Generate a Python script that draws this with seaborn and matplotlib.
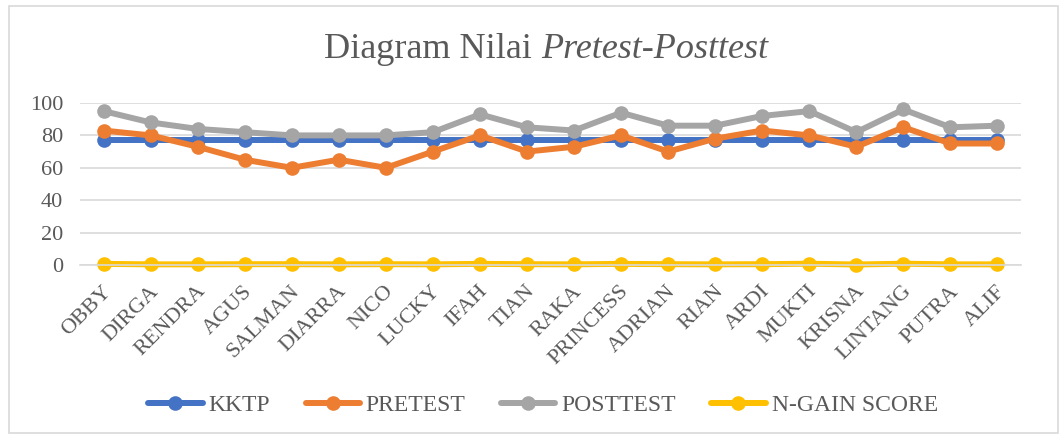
import matplotlib
matplotlib.use("Agg")
import matplotlib.pyplot as plt
import matplotlib.transforms as mtransforms
import seaborn as sns
import pandas as pd
from matplotlib.patches import Rectangle
from matplotlib.lines import Line2D

names = ["OBBY", "DIRGA", "RENDRA", "AGUS", "SALMAN", "DIARRA", "NICO", "LUCKY",
         "IFAH", "TIAN", "RAKA", "PRINCESS", "ADRIAN", "RIAN", "ARDI", "MUKTI",
         "KRISNA", "LINTANG", "PUTRA", "ALIF"]
kktp = [77] * 20
pretest = [83, 80, 73, 65, 60, 65, 60, 70, 80, 70, 73, 80, 70, 78, 83, 80, 73, 85, 75, 75]
posttest = [95, 88, 84, 82, 80, 80, 80, 82, 93, 85, 83, 94, 86, 86, 92, 95, 82, 96, 85, 86]
ngain = [0.7, 0.4, 0.4, 0.5, 0.5, 0.4, 0.5, 0.4, 0.7, 0.5, 0.4, 0.7, 0.5, 0.4, 0.5, 0.8, 0.3, 0.8, 0.4, 0.4]
yticks = [0, 20, 40, 60, 80, 100]

series = {"KKTP": kktp, "PRETEST": pretest, "POSTTEST": posttest, "N-GAIN SCORE": ngain}
colors = {"KKTP": "#4472C4", "PRETEST": "#ED7D31", "POSTTEST": "#A5A5A5", "N-GAIN SCORE": "#FFC000"}

rows = []
for s, vals in series.items():
    for i, (n, v) in enumerate(zip(names, vals)):
        rows.append({"Nama": n, "idx": i, "Seri": s, "Nilai": v})
df = pd.DataFrame(rows)

sns.set_theme(style="white")
plt.rcParams["font.family"] = ["Liberation Serif", "DejaVu Serif"]
text_color = "#595959"
LW = 4.3
MS = 10.5

fig = plt.figure(figsize=(10.63, 4.37), dpi=100)
ax = fig.add_axes([80 / 1063, 1 - 265 / 437, (1021 - 80) / 1063, (265 - 103) / 437])

sns.lineplot(data=df, x="idx", y="Nilai", hue="Seri", palette=colors, ax=ax,
             marker="o", markersize=MS, markeredgewidth=0, linewidth=LW,
             sort=False, clip_on=False, legend=False)

ax.set_xlim(-0.5, len(names) - 0.5)
ax.set_ylim(0, 100)
ax.set_yticks(yticks)
ax.set_xticks(range(len(names)))
ax.set_xticklabels(names, rotation=45, ha="right", va="center", rotation_mode="anchor")
ax.tick_params(axis="both", length=0, labelsize=16, labelcolor=text_color)
ax.tick_params(axis="x", pad=17)
ax.tick_params(axis="y", pad=12)
offset = mtransforms.ScaledTranslation(5 / 100, 0, fig.dpi_scale_trans)
for lab in ax.get_xticklabels():
    lab.set_transform(lab.get_transform() + offset)
ax.grid(axis="y", color="#D9D9D9", linewidth=1.2)
ax.set_axisbelow(True)
for sp in ["top", "right", "left"]:
    ax.spines[sp].set_visible(False)
ax.spines["bottom"].set_color("#D9D9D9")
ax.spines["bottom"].set_linewidth(1.2)
ax.set_xlabel("")
ax.set_ylabel("")

# title with italic part
TS = 26
r = fig.canvas.get_renderer()
ta = fig.text(0, 0, "Diagram Nilai ", fontsize=TS)
tb = fig.text(0, 0, "Pretest-Posttest", fontsize=TS, style="italic")
wa = ta.get_window_extent(r).width
wb = tb.get_window_extent(r).width
ta.remove(); tb.remove()
x0 = 546 - (wa + wb) / 2
ty = 1 - 49 / 437
fig.text(x0 / 1063, ty, "Diagram Nilai ", fontsize=TS, color=text_color, ha="left", va="center")
fig.text((x0 + wa) / 1063, ty, "Pretest-Posttest", fontsize=TS, color=text_color,
         ha="left", va="center", style="italic")

# legend
handles = [Line2D([], [], color=colors[s], marker="o", markersize=MS, linewidth=LW,
                  markeredgewidth=0) for s in series]
fig.legend(handles, list(series.keys()), loc="center", bbox_to_anchor=(543 / 1063, 1 - 405 / 437),
           ncol=4, frameon=False, fontsize=17, handlelength=2.3, handletextpad=0.25,
           columnspacing=1.5, labelcolor=text_color)

fig.patches.append(Rectangle((9 / 1063, 1 - 433 / 437), (1058 - 9) / 1063, (433 - 6) / 437,
                             transform=fig.transFigure, fill=False, edgecolor="#D9D9D9",
                             linewidth=1.2))

fig.savefig("out.png", dpi=100, facecolor="white")
